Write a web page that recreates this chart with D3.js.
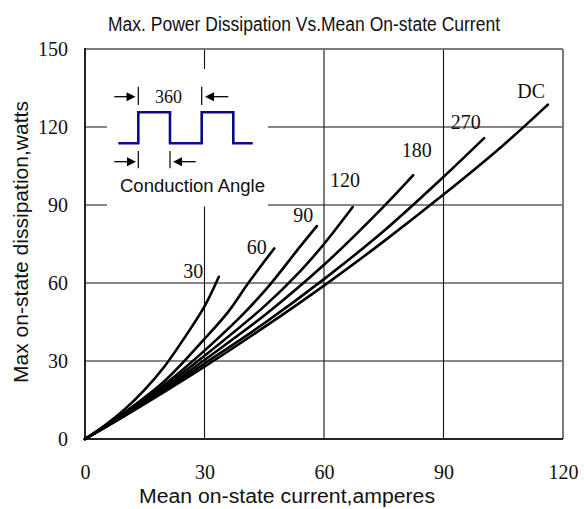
<!DOCTYPE html>
<html><head><meta charset="utf-8">
<script src="https://cdn.jsdelivr.net/npm/d3@7"></script>
<style>html,body{margin:0;padding:0;background:#fff;} svg{display:block;}</style>
</head><body><svg id="c" width="584" height="509"></svg>
<script>
const xTickValues = [0, 30, 60, 90, 120];
const yTickValues = [0, 30, 60, 90, 120, 150];
const seriesNames = ["30", "60", "90", "120", "180", "270", "DC"];
const current30 = [0, 5, 10, 15, 20, 25, 30, 33.6];
const power30 = [0, 5.3, 11.5, 19, 28, 39, 51, 62.4];
const current60 = [0, 10, 20, 30, 36, 41, 47.5];
const power60 = [0, 10.3, 22.3, 38.5, 49, 60, 73.3];
const current90 = [0, 10, 20, 30, 40, 46.5, 54, 58.2];
const power90 = [0, 9.9, 21, 34, 48.5, 59.5, 74, 81.9];
const current120 = [0, 10, 20, 30, 45, 54, 60, 67.2];
const power120 = [0, 9.6, 20.2, 32, 51, 64.5, 75, 89.2];
const current180 = [0, 10, 20, 30, 45, 60, 74.9, 82.4];
const power180 = [0, 9.3, 19.4, 30.4, 47.5, 67, 89.3, 101.5];
const current270 = [0, 10, 20, 30, 45, 60, 75, 90, 100.2];
const power270 = [0, 9.1, 18.8, 29, 44.5, 61.5, 80, 100.8, 115.7];
const currentDC = [0, 10, 20, 30, 45, 60, 75, 90, 105, 116.2];
const powerDC = [0, 8.9, 18.2, 27.8, 43, 59, 76, 94, 113, 128.6];
const labelCurrent = [27.2, 43.1, 54.8, 65.3, 83.3, 95.6, 112.0];
const labelPower = [64.7, 74.0, 86.3, 99.6, 111.2, 122.0, 134.0];

const titleText = "Max. Power Dissipation Vs.Mean On-state Current";
const xLabelText = "Mean on-state current,amperes";
const yLabelText = "Max on-state dissipation,watts";
const insetAngleText = "360";
const insetCaptionText = "Conduction Angle";

const currents = [current30, current60, current90, current120, current180, current270, currentDC];
const powers = [power30, power60, power90, power120, power180, power270, powerDC];

const L = 85, R = 563, T = 49, B = 439;
const svg = d3.select("#c");
const x = d3.scaleLinear().domain([0, 120]).range([L, R]);
const y = d3.scaleLinear().domain([0, 150]).range([B, T]);

// grid
const g = svg.append("g");
g.selectAll("line.vx").data(xTickValues.slice(1, -1)).join("line")
  .attr("x1", d => x(d)).attr("x2", d => x(d)).attr("y1", T).attr("y2", B)
  .attr("stroke", "#111").attr("stroke-width", 1.1);
g.selectAll("line.hy").data(yTickValues.slice(1, -1)).join("line")
  .attr("x1", L).attr("x2", R).attr("y1", d => y(d)).attr("y2", d => y(d))
  .attr("stroke", "#111").attr("stroke-width", 1.1);

// inset box (covers grid)
const ix = 107, iy = 69;
svg.append("rect").attr("x", ix).attr("y", iy).attr("width", 161).attr("height", 137.5).attr("fill", "#fff");

// frame
svg.append("line").attr("x1", L).attr("x2", R).attr("y1", T).attr("y2", T).attr("stroke", "#7a7a7a").attr("stroke-width", 2);
svg.append("line").attr("x1", R).attr("x2", R).attr("y1", T).attr("y2", B).attr("stroke", "#7a7a7a").attr("stroke-width", 2);
svg.append("line").attr("x1", L).attr("x2", L).attr("y1", T - 1).attr("y2", B).attr("stroke", "#222").attr("stroke-width", 2);
svg.append("line").attr("x1", L).attr("x2", R).attr("y1", B).attr("y2", B).attr("stroke", "#222").attr("stroke-width", 2);

// axes tick labels
const xAxis = d3.axisBottom(x).tickValues(xTickValues).tickSize(0).tickPadding(0);
const xa = svg.append("g").attr("transform", `translate(0,${B})`).call(xAxis);
xa.select(".domain").remove();
xa.selectAll("text").attr("dy", null).attr("y", 40).attr("fill", "#111")
  .attr("font-family", "'Liberation Serif', serif").attr("font-size", 20);
const yAxis = d3.axisLeft(y).tickValues(yTickValues).tickSize(0).tickPadding(0);
const ya = svg.append("g").attr("transform", `translate(${L},0)`).call(yAxis);
ya.select(".domain").remove();
ya.selectAll("text").attr("x", -17).attr("dy", "0.34em").attr("fill", "#111")
  .attr("font-family", "'Liberation Serif', serif").attr("font-size", 20);

// curves
const line = d3.line().x(d => x(d[0])).y(d => y(d[1])).curve(d3.curveCatmullRom.alpha(0.5));
seriesNames.forEach((name, i) => {
  const pts = currents[i].map((c, j) => [c, powers[i][j]]);
  svg.append("path").attr("d", line(pts)).attr("fill", "none")
    .attr("stroke", "#000").attr("stroke-width", 2.6).attr("stroke-linecap", "round");
  svg.append("text").attr("x", x(labelCurrent[i])).attr("y", y(labelPower[i]))
    .attr("dy", "0.35em").attr("text-anchor", "middle")
    .attr("font-family", "'Liberation Serif', serif").attr("font-size", 20).attr("fill", "#111")
    .text(name);
});

// titles
svg.append("text").attr("x", 304).attr("y", 31).attr("text-anchor", "middle")
  .attr("font-family", "'Liberation Sans', Arial, sans-serif").attr("font-size", 20)
  .attr("textLength", 392).attr("lengthAdjust", "spacingAndGlyphs").attr("fill", "#111").text(titleText);
svg.append("text").attr("x", 287).attr("y", 503).attr("text-anchor", "middle")
  .attr("font-family", "'Liberation Sans', Arial, sans-serif").attr("font-size", 20)
  .attr("textLength", 296).attr("lengthAdjust", "spacingAndGlyphs").attr("fill", "#111").text(xLabelText);
svg.append("text").attr("transform", "translate(27.5,242) rotate(-90)").attr("text-anchor", "middle")
  .attr("font-family", "'Liberation Sans', Arial, sans-serif").attr("font-size", 20)
  .attr("textLength", 282).attr("lengthAdjust", "spacingAndGlyphs").attr("fill", "#111").text(yLabelText);

// inset drawing
const ins = svg.append("g");
const wave = [[118.3,143.3],[138.3,143.3],[138.3,112.3],[170,112.3],[170,143.3],[201.7,143.3],[201.7,112.3],[233.3,112.3],[233.3,143.3],[252.7,143.3]];
ins.append("path").attr("d", d3.line()(wave)).attr("fill", "none").attr("stroke", "#0a0a8a").attr("stroke-width", 2.6);
function arrow(x0, x1, yy) {
  const dir = Math.sign(x1 - x0);
  ins.append("line").attr("x1", x0).attr("x2", x1 - dir * 6).attr("y1", yy).attr("y2", yy).attr("stroke", "#000").attr("stroke-width", 1.3);
  ins.append("path").attr("d", `M${x1},${yy} L${x1 - dir * 9},${yy - 4.5} L${x1 - dir * 9},${yy + 4.5} Z`).attr("fill", "#000");
}
function vtick(xx, y0, y1) {
  ins.append("line").attr("x1", xx).attr("x2", xx).attr("y1", y0).attr("y2", y1).attr("stroke", "#000").attr("stroke-width", 1.2);
}
arrow(114.3, 135.5, 96.7); vtick(138.3, 86.7, 105);
arrow(228.3, 205, 96.7); vtick(201.7, 86.7, 105);
arrow(114.3, 136, 161.7); vtick(138.3, 151, 168.3);
arrow(195.7, 173, 161.7); vtick(170, 151, 168.3);
ins.append("text").attr("x", 168.5).attr("y", 96.7).attr("dy", "0.35em").attr("text-anchor", "middle")
  .attr("font-family", "'Liberation Serif', serif").attr("font-size", 18).attr("fill", "#111").text(insetAngleText);
ins.append("text").attr("x", 192.5).attr("y", 191.5).attr("text-anchor", "middle")
  .attr("font-family", "'Liberation Sans', Arial, sans-serif").attr("font-size", 18)
  .attr("textLength", 145).attr("lengthAdjust", "spacingAndGlyphs").attr("fill", "#111").text(insetCaptionText);
</script></body></html>
